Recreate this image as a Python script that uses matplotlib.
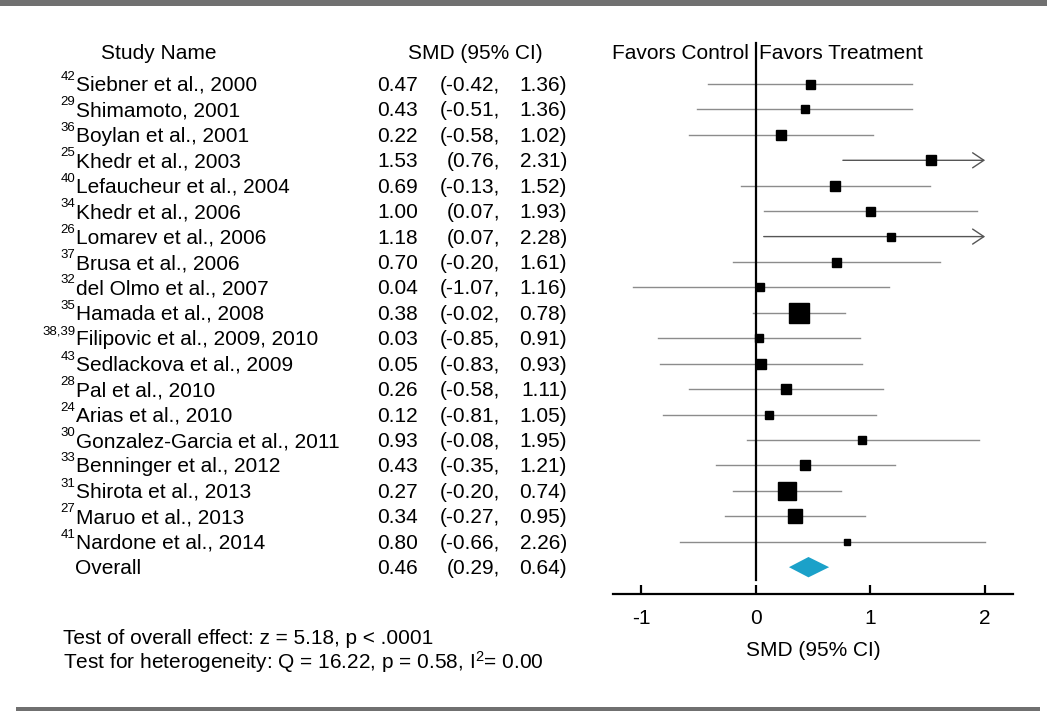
import numpy as np
import matplotlib
matplotlib.use("Agg")
import matplotlib.pyplot as plt
from matplotlib.patches import Rectangle, Polygon
from matplotlib.transforms import blended_transform_factory

plt.rcParams['font.family'] = ['Liberation Sans', 'DejaVu Sans']
plt.rcParams['mathtext.default'] = 'regular'

# Datos del forest plot
refs = ["42", "29", "36", "25", "40", "34", "26", "37", "32", "35",
        "38,39", "43", "28", "24", "30", "33", "31", "27", "41"]
studies = ["Siebner et al., 2000", "Shimamoto, 2001", "Boylan et al., 2001",
           "Khedr et al., 2003", "Lefaucheur et al., 2004", "Khedr et al., 2006",
           "Lomarev et al., 2006", "Brusa et al., 2006", "del Olmo et al., 2007",
           "Hamada et al., 2008", "Filipovic et al., 2009, 2010",
           "Sedlackova et al., 2009", "Pal et al., 2010", "Arias et al., 2010",
           "Gonzalez-Garcia et al., 2011", "Benninger et al., 2012",
           "Shirota et al., 2013", "Maruo et al., 2013", "Nardone et al., 2014"]
smd = [0.47, 0.43, 0.22, 1.53, 0.69, 1.00, 1.18, 0.70, 0.04, 0.38,
       0.03, 0.05, 0.26, 0.12, 0.93, 0.43, 0.27, 0.34, 0.80]
ci_low = [-0.42, -0.51, -0.58, 0.76, -0.13, 0.07, 0.07, -0.20, -1.07, -0.02,
          -0.85, -0.83, -0.58, -0.81, -0.08, -0.35, -0.20, -0.27, -0.66]
ci_high = [1.36, 1.36, 1.02, 2.31, 1.52, 1.93, 2.28, 1.61, 1.16, 0.78,
           0.91, 0.93, 1.11, 1.05, 1.95, 1.21, 0.74, 0.95, 2.26]
# tamano relativo del cuadrado (peso del estudio)
weight = [9, 8.7, 10, 10.7, 10, 9, 7.3, 9, 7.3, 20,
          8.3, 10, 9.7, 8.7, 8, 10.7, 17.3, 13.3, 5.7]
arrow_studies = ["Khedr et al., 2003", "Lomarev et al., 2006"]

overall = 0.46
overall_low = 0.29
overall_high = 0.64

xmax_plot = 2.0

W, H = 1050, 711
fig = plt.figure(figsize=(W / 100, H / 100), dpi=100)

ax = fig.add_axes([613 / W, 1 - 594 / H, 400 / W, (594 - 60) / H])
ax.set_xlim(-1.244, 2.243)
ax.set_ylim(20.055, -0.944)

rows = np.arange(len(studies))
gray = '#8c8c8c'

# lineas de IC
for i, (lo, hi) in enumerate(zip(ci_low, ci_high)):
    if studies[i] in arrow_studies:
        ax.annotate('', xy=(xmax_plot, i), xytext=(lo, i),
                    arrowprops=dict(arrowstyle='->,head_length=0.45,head_width=0.3',
                                    color='#555555', lw=1.0, mutation_scale=18,
                                    shrinkA=0, shrinkB=0))
    else:
        ax.plot([lo, min(hi, xmax_plot)], [i, i], color=gray, lw=1.0, zorder=1)

# cuadrados
for i in rows:
    ax.plot(smd[i], i, 's', color='black', ms=weight[i] * 0.72, zorder=3)

# diamante global
yo = len(studies)
dh = 0.4
ax.add_patch(Polygon([(overall_low, yo), (overall, yo - dh),
                      (overall_high, yo), (overall, yo + dh)],
                     closed=True, facecolor='#1ba1c9', edgecolor='none', zorder=3))

# linea vertical en cero
ax.plot([0, 0], [-1.61, 19.5], color='black', lw=1.6, clip_on=False, zorder=2)

for s in ['top', 'left', 'right']:
    ax.spines[s].set_visible(False)
ax.spines['bottom'].set_linewidth(1.6)
ax.set_yticks([])
ax.set_xticks([-1, 0, 1, 2])
ax.set_xticklabels(['-1', '0', '1', '2'])
ax.tick_params(axis='x', direction='in', length=6.5, width=1.6, labelsize=15, pad=11)
ax.set_xlabel('SMD (95% CI)', fontsize=15, labelpad=9)

# columnas de texto
trans = blended_transform_factory(fig.transFigure, ax.transData)
fs = 15
base = 0.275
for i in rows:
    ax.text(75.5 / W, i - 0.16, refs[i], transform=trans, fontsize=9.5,
            ha='right', va='baseline')
    ax.text(75.5 / W, i + base, studies[i], transform=trans, fontsize=fs,
            ha='left', va='baseline')
    ax.text(418 / W, i + base, f"{smd[i]:.2f}", transform=trans, fontsize=fs,
            ha='right', va='baseline')
    ax.text(500 / W, i + base, f"({ci_low[i]:.2f},", transform=trans, fontsize=fs,
            ha='right', va='baseline')
    ax.text(567 / W, i + base, f"{ci_high[i]:.2f})", transform=trans, fontsize=fs,
            ha='right', va='baseline')

ax.text(75.5 / W, yo + base, "Overall", transform=trans, fontsize=fs, ha='left', va='baseline')
ax.text(418 / W, yo + base, f"{overall:.2f}", transform=trans, fontsize=fs,
        ha='right', va='baseline')
ax.text(500 / W, yo + base, f"({overall_low:.2f},", transform=trans, fontsize=fs,
        ha='right', va='baseline')
ax.text(567 / W, yo + base, f"{overall_high:.2f})", transform=trans, fontsize=fs,
        ha='right', va='baseline')

# encabezados
hy = -0.98
ax.text(101 / W, hy, "Study Name", transform=trans, fontsize=fs, ha='left', va='baseline')
ax.text(408 / W, hy, "SMD (95% CI)", transform=trans, fontsize=fs, ha='left', va='baseline')
ax.text(749 / W, hy, "Favors Control", transform=trans, fontsize=fs, ha='right', va='baseline')
ax.text(759 / W, hy, "Favors Treatment", transform=trans, fontsize=fs, ha='left', va='baseline')

# pruebas
fig.text(63 / W, 1 - 644 / H, "Test of overall effect: z = 5.18, p < .0001", fontsize=fs)
fig.text(63 / W, 1 - 669 / H, "Test for heterogeneity: Q = 16.22, p = 0.58, I$^{2}$= 0.00",
         fontsize=fs)

# bandas grises
fig.patches.append(Rectangle((0, 1 - 6 / H), 1047 / W, 6 / H, transform=fig.transFigure,
                             facecolor='#707070', edgecolor='none'))
fig.patches.append(Rectangle((16 / W, 0), 1024 / W, 4 / H, transform=fig.transFigure,
                             facecolor='#707070', edgecolor='none'))

fig.savefig('out.png', dpi=100)
